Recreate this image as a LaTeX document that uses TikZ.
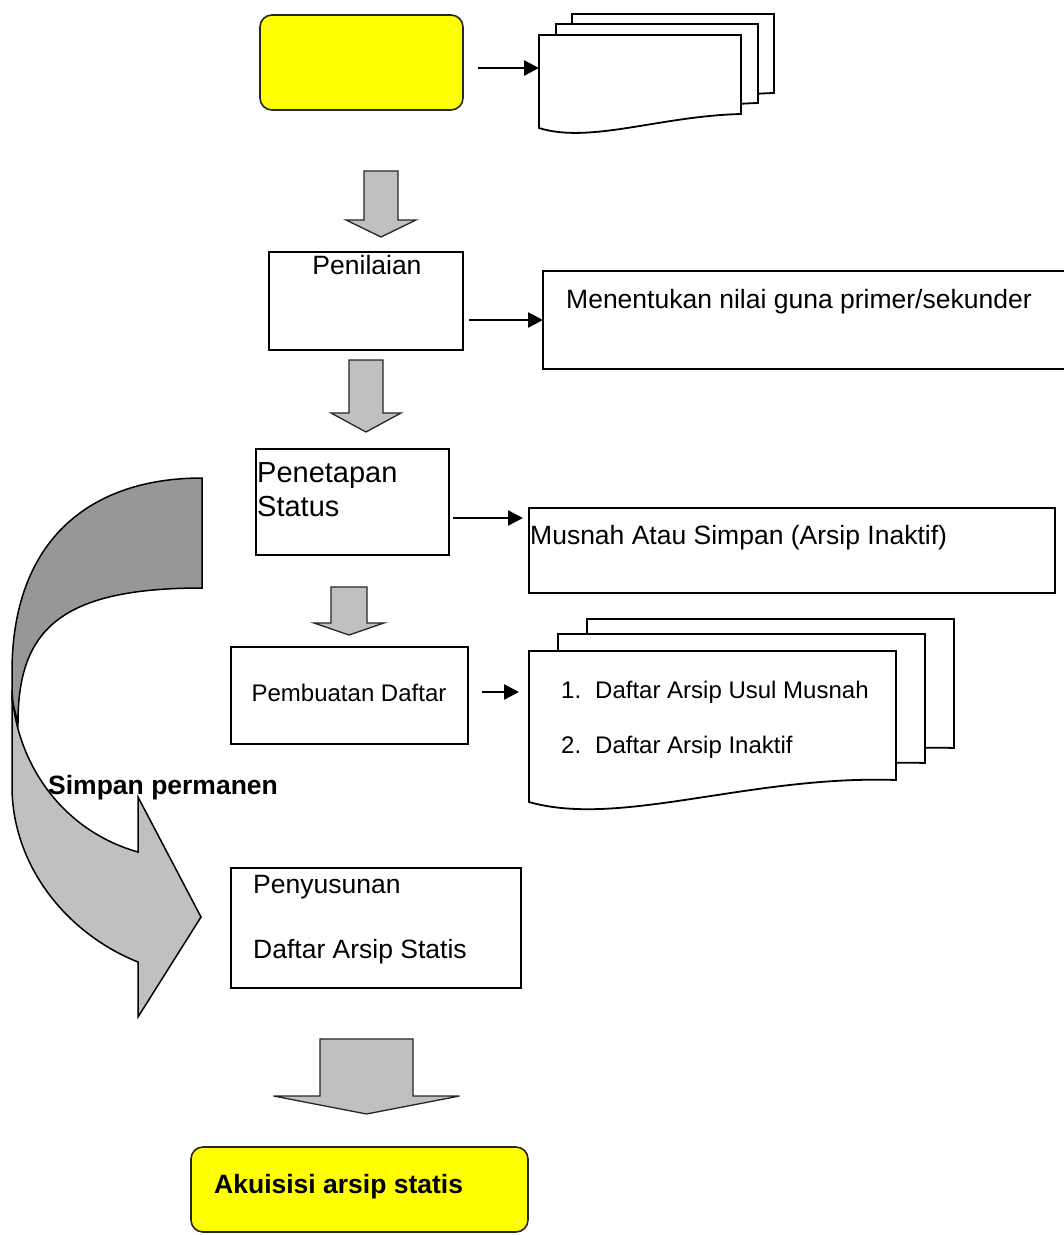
\documentclass[tikz,border=0pt]{standalone}
\usepackage{fontspec}
\setmainfont{Liberation Sans}
\usetikzlibrary{arrows.meta}
\definecolor{yellowfill}{HTML}{FFFF00}
\definecolor{arrowgray}{HTML}{C0C0C0}
\definecolor{darkband}{HTML}{979797}
\newcommand\myblkarrow[6]{% cx, top, shaft half width, head base y, head half width, tip y
  \draw[blk] (#1-#3,#2) -- (#1+#3,#2) -- (#1+#3,#4) -- (#1+#5,#4) -- (#1,#6) -- (#1-#5,#4) -- (#1-#3,#4) -- cycle;}
\begin{document}
\begin{tikzpicture}[x=1pt,y=-1pt,
  box/.style={draw=black,line width=1.8pt,fill=white,inner sep=0pt,outer sep=0pt},
  ybox/.style={draw=black!85,line width=1.6pt,fill=yellowfill,rounded corners=12pt,inner sep=0pt,outer sep=0pt},
  page/.style={draw=black,line width=1.8pt,fill=white,line join=miter},
  blk/.style={draw=black!85,line width=1.3pt,fill=arrowgray,line join=miter},
  band/.style={draw=black,line width=1.5pt,line join=miter},
  conn/.style={line width=2.4pt,-{Triangle[length=15pt,width=15pt]}},
  txt/.style={inner sep=0pt,font=\fontsize{26.5}{30}\selectfont},
  txtbig/.style={inner sep=0pt,align=left,font=\fontsize{29}{34}\selectfont},
  txtsm/.style={inner sep=0pt,font=\fontsize{24}{28}\selectfont},
  txtb/.style={inner sep=0pt,font=\fontsize{26.5}{30}\selectfont\bfseries}]
\fill[white] (0,0) rectangle (1064,1235);
\useasboundingbox (0,0) rectangle (1064,1235);

% curved arrow (Simpan permanen)
\draw[band,fill=darkband] (202,478) .. controls (90,478) and (12,540) .. (12,672)
  -- (12,700) -- (18,723) .. controls (18,630) and (60,588) .. (202,588) -- cycle;
\draw[band,fill=arrowgray] (12,690) -- (12,790) .. controls (14,870) and (70,935) .. (138,962)
  -- (138,1017) -- (201,917) -- (138,797) -- (138,852)
  .. controls (60,830) and (15,760) .. (12,690) -- cycle;

% boxes
\node[ybox,minimum width=203pt,minimum height=95pt] (ytop) at (361.5,62.5) {};
\node[box,minimum width=194pt,minimum height=98pt] (pen) at (366,301) {};
\node[box,minimum width=527pt,minimum height=98pt] (menent) at (806.5,320) {};
\node[box,minimum width=193pt,minimum height=106pt] (penet) at (352.5,502) {};
\node[box,minimum width=526pt,minimum height=85pt] (musnah) at (792,550.5) {};
\node[box,minimum width=237pt,minimum height=97pt] (pemb) at (349.5,695.5) {};
\node[box,minimum width=290pt,minimum height=120pt] (penyus) at (376,928) {};
\node[ybox,minimum width=337pt,minimum height=85pt] (akuis) at (359.5,1189.5) {};

% document stack (top)
\draw[page] (572,14) -- (774,14) -- (774,93) .. controls (693,95) and (623,123) .. (572,107) -- cycle;
\draw[page] (556,24) -- (758,24) -- (758,103) .. controls (677,105) and (607,133) .. (556,117) -- cycle;
\draw[page] (539,35) -- (741,35) -- (741,114) .. controls (660,116) and (590,144) .. (539,128) -- cycle;
\coordinate (docA) at (539,68);

% document stack (lists)
\draw[page] (587,619) -- (954,619) -- (954,748) .. controls (808,743) and (678,796) .. (587,770) -- cycle;
\draw[page] (558,634) -- (925,634) -- (925,763) .. controls (779,758) and (649,811) .. (558,785) -- cycle;
\draw[page] (529,651) -- (896,651) -- (896,780) .. controls (750,775) and (620,828) .. (529,802) -- cycle;
\coordinate (docB) at (529,692);

% grey block arrows
\myblkarrow{381}{171}{17}{220}{35}{237}
\myblkarrow{366}{360}{17}{413}{35}{432}
\myblkarrow{349}{587}{18}{623}{35}{635}
\myblkarrow{366.5}{1039}{46.5}{1096}{93}{1114}

% connectors
\coordinate (s1) at (478,68);
\draw[conn] (s1) -- (docA);
\coordinate (s2) at (469,320);
\draw[conn] (s2) -- (menent.west |- s2);
\coordinate (s3) at (453,518);
\draw[conn,shorten >=6pt] (s3) -- (musnah.west |- s3);
\coordinate (s4) at (482,692);
\draw[conn,shorten >=10pt] (s4) -- (docB);

% texts
\node[txt] (tPen) at (367,265) {Penilaian};
\node[txt,anchor=west] (tMen) at (566,302) {Menentukan nilai guna primer/sekunder};
\node[txtbig,anchor=west] (tPnt) at (257,490) {Penetapan\\Status};
\node[txt,anchor=west] (tMus) at (530,538) {Musnah Atau Simpan (Arsip Inaktif)};
\node[txtsm] (tPem) at (349,693) {Pembuatan Daftar};
\node[txtsm,anchor=west] (tL1) at (561,692) {\makebox[34pt][l]{1.}Daftar Arsip Usul Musnah};
\node[txtsm,anchor=west] (tL2) at (561,747) {\makebox[34pt][l]{2.}Daftar Arsip Inaktif};
\node[txtb,anchor=west] (tSim) at (48,788) {Simpan permanen};
\node[txt,anchor=west] (tPy1) at (253,887) {Penyusunan};
\node[txt,anchor=west] (tPy2) at (253,952) {Daftar Arsip Statis};
\node[txtb,anchor=west] (tAk) at (214,1187) {Akuisisi arsip statis};
\end{tikzpicture}
\end{document}
